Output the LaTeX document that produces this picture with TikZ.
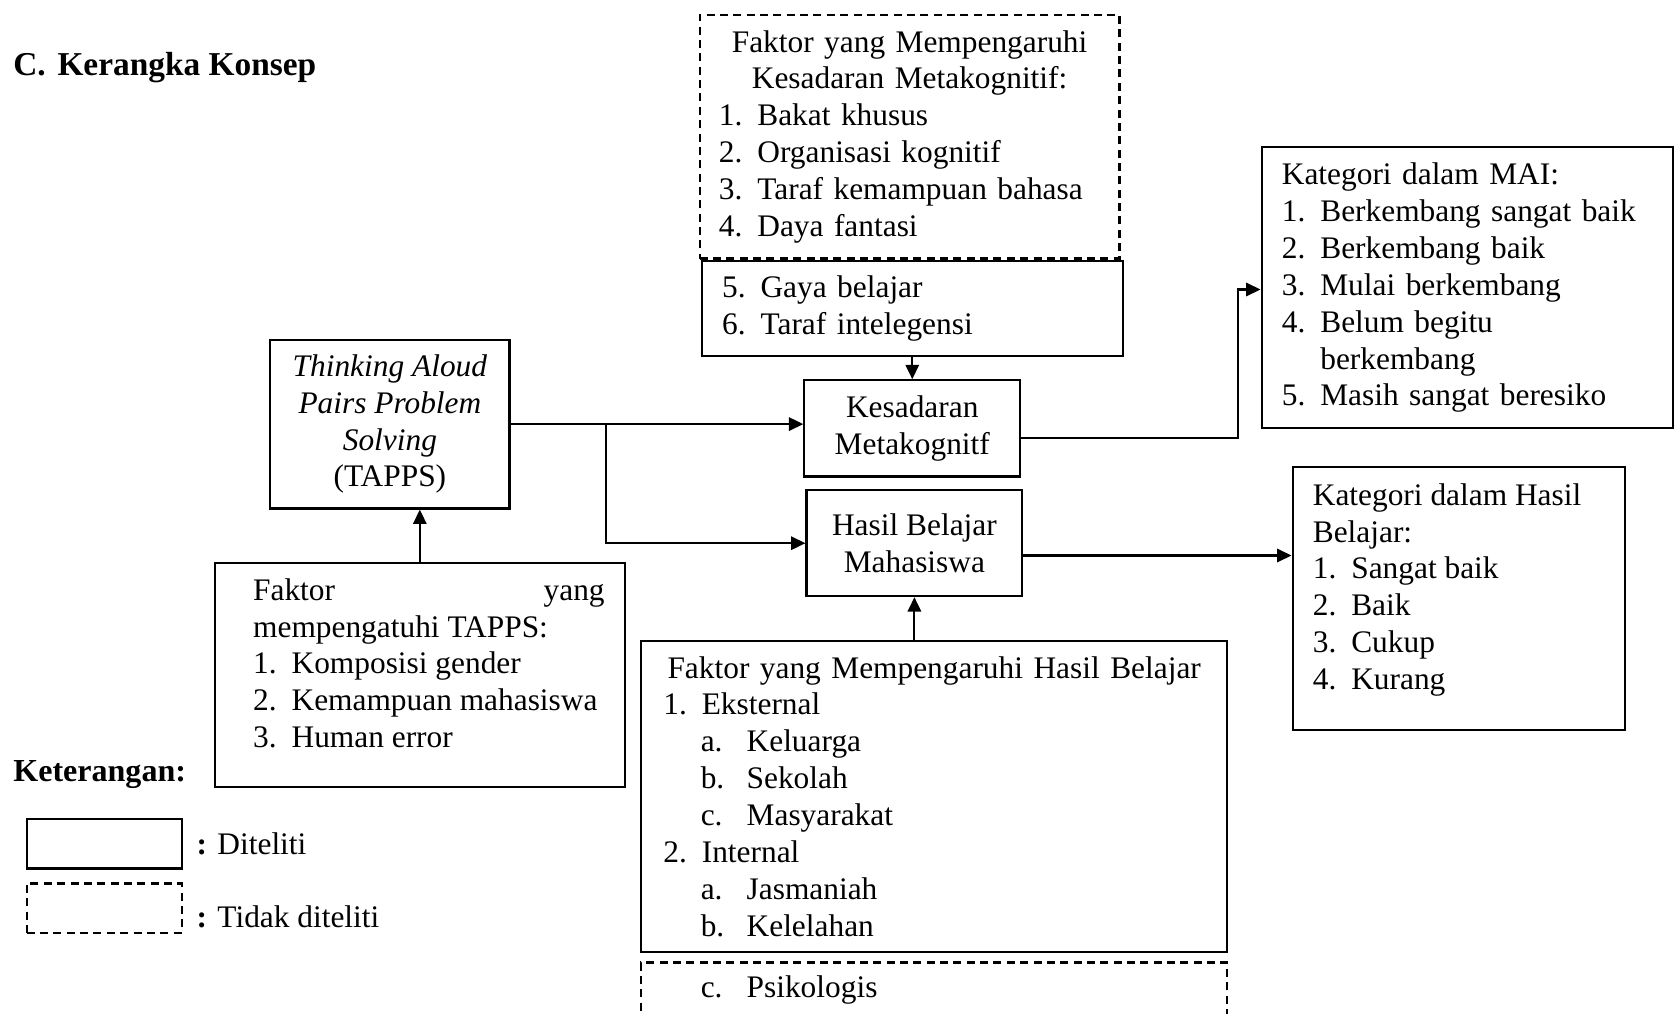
\documentclass[tikz,border=0pt]{standalone}
\usepackage{fontspec}
\setmainfont{Liberation Serif}
\usetikzlibrary{arrows.meta, positioning, calc}

\hyphenpenalty=10000
\exhyphenpenalty=10000
\newcommand{\num}[1]{\makebox[14.4pt][l]{#1}}
\newcommand{\subnum}[1]{\hspace*{14pt}\makebox[17.2pt][l]{#1}}

\begin{document}
\begin{tikzpicture}[
    x=0.4pt, y=-0.4pt,
    every node/.style={font=\fontsize{11.75}{13.8}\selectfont},
    box/.style={rectangle, draw=black, line width=0.8pt, inner sep=0pt},
    dashbox/.style={box, dash pattern=on 3pt off 2pt},
    link/.style={-{Triangle[length=5.4pt, width=5pt]}, line width=0.8pt}
]
\clip (0,0) rectangle (1568,949);

% Title
\node (judul) [anchor=base west, inner sep=0pt, font=\fontsize{12.5}{14}\selectfont\bfseries] at (12,71) {C.\hspace{4.4pt}Kerangka Konsep};

% Faktor kesadaran metakognitif
\node (faktor_mk) [dashbox, minimum width=157.2pt, minimum height=91.2pt, text width=142.8pt, align=left] at (851.5,128) {\makebox[142.8pt][c]{Faktor yang Mempengaruhi}\\ \makebox[142.8pt][c]{Kesadaran Metakognitif:}\\ \num{1.}Bakat khusus\\ \num{2.}Organisasi kognitif\\ \num{3.}Taraf kemampuan bahasa\\ \num{4.}Daya fantasi};
\node (faktor_mk_lanjut) [box, minimum width=157.6pt, minimum height=35.6pt, text width=142.4pt, align=left] at (854,288.5) {\num{5.}Gaya belajar\\ \num{6.}Taraf intelegensi};

% Main boxes
\node (kesadaran) [box, minimum width=80.8pt, minimum height=36pt, align=center] at (854,401) {Kesadaran\\ Metakognitf};
\node (hasil_belajar) [box, minimum width=80.8pt, minimum height=39.6pt, align=center] at (856,508.5) {Hasil Belajar\\ Mahasiswa};
\node (tapps) [box, minimum width=89.6pt, minimum height=63.2pt, align=center] at (365,397) {\textit{Thinking Aloud}\\ \textit{Pairs Problem}\\ \textit{Solving}\\ (TAPPS)};
\node (faktor_tapps) [box, minimum width=153.6pt] at (393,632) {\parbox[c][84pt][t]{138.4pt}{\leftskip=6.8pt\vspace*{4.3pt}\strut\makebox[131.6pt][s]{Faktor\hfill yang}\\ mempengatuhi TAPPS:\\ \num{1.}Komposisi gender\\ \num{2.}Kemampuan mahasiswa\\ \num{3.}Human error}};

% Faktor hasil belajar
\node (faktor_hasil) [box, minimum width=219.6pt, minimum height=116.4pt, text width=202.8pt, align=left] at (874.5,745.5) {\makebox[202.8pt][c]{Faktor yang Mempengaruhi Hasil Belajar}\\ \num{1.}Eksternal\\ \subnum{a.}Keluarga\\ \subnum{b.}Sekolah\\ \subnum{c.}Masyarakat\\ \num{2.}Internal\\ \subnum{a.}Jasmaniah\\ \subnum{b.}Kelelahan};
\node (faktor_psikologis) [dashbox, minimum width=219.6pt, minimum height=20.8pt, text width=202.8pt, align=left] at (874.5,927) {\subnum{c.}Psikologis};

% Kategori
\node (kategori_mai) [box, minimum width=154pt, minimum height=105.2pt, text width=138.8pt, align=left] at (1373.5,269.5) {Kategori dalam MAI:\\ \num{1.}Berkembang sangat baik\\ \num{2.}Berkembang baik\\ \num{3.}Mulai berkembang\\ \num{4.}Belum begitu\\ \hspace*{14.4pt}berkembang\\ \num{5.}Masih sangat beresiko};
\node (kategori_hasil) [box, minimum width=124.4pt] at (1365.5,560) {\parbox[c][98.4pt][t]{109.2pt}{\vspace*{4.7pt}\strut Kategori dalam Hasil\\ Belajar:\\ \num{1.}Sangat baik\\ \num{2.}Baik\\ \num{3.}Cukup\\ \num{4.}Kurang}};

% Keterangan
\node (keterangan) [anchor=base west, inner sep=0pt, font=\fontsize{12}{14}\selectfont\bfseries] at (12,732) {Keterangan:};
\node (legend_solid) [box, minimum width=58pt, minimum height=18.4pt] at (97.5,790) {};
\node (legend_dashed) [dashbox, minimum width=58pt, minimum height=18.4pt] at (97.5,850) {};
\node (lbl_diteliti) [right=5pt of legend_solid, inner sep=0pt] {\textbf{:} Diteliti};
\node (lbl_tidak) [right=5pt of legend_dashed, inner sep=0pt, yshift=-3.2pt] {\textbf{:} Tidak diteliti};

% Arrows
\draw [link] (faktor_mk_lanjut.south) -- (kesadaran.north);
\draw [link] (faktor_tapps.north) -- (faktor_tapps.north |- tapps.south);
\draw [link] (tapps.east) -- (tapps.east -| kesadaran.west);
\coordinate (cabang) at (567,397);
\draw [link] (cabang) |- (hasil_belajar.west);
\draw [link] (faktor_hasil.north -| hasil_belajar.south) -- (hasil_belajar.south);
\draw [link] ([yshift=-4.6pt]hasil_belajar.east) -- ([yshift=-4.6pt]hasil_belajar.east -| kategori_hasil.west);
\coordinate (belok_mai) at (1159,271);
\draw [link] ([yshift=-3.6pt]kesadaran.east) -| (belok_mai) -- (belok_mai -| kategori_mai.west);

\end{tikzpicture}
\end{document}
